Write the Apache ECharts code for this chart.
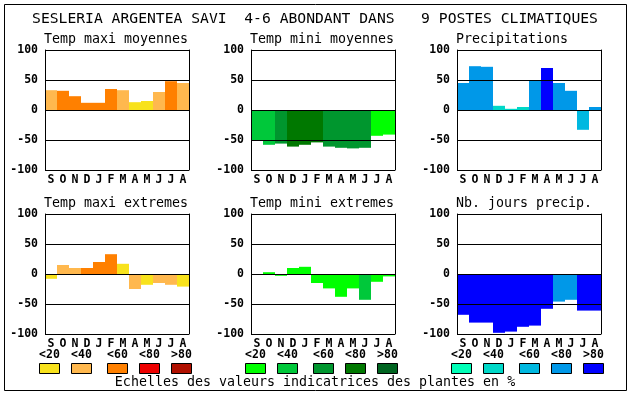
<!DOCTYPE html>
<html>
<head>
<meta charset="utf-8">
<script src="https://cdn.jsdelivr.net/npm/echarts@6/dist/echarts.min.js"></script>
<style>html,body{margin:0;padding:0;background:#fff}#c{width:630px;height:394px}</style>
</head>
<body>
<div id="c"></div>
<script>
// ---- data ----
const months = ['S','O','N','D','J','F','M','A','M','J','J','A'];
const yTicks = [-100, -50, 0, 50, 100];
const mainTitle = 'SESLERIA ARGENTEA SAVI  4-6 ABONDANT DANS   9 POSTES CLIMATIQUES';
const panelTitles = ['Temp maxi moyennes','Temp mini moyennes','Precipitations',
                     'Temp maxi extremes','Temp mini extremes','Nb. jours precip.'];
const classLabels = ['<20','<40','<60','<80','>80'];
const caption = 'Echelles des valeurs indicatrices des plantes en %';

const tmaxMoy    = [33, 32, 23, 12, 12, 35, 33, 13, 15, 30, 48, 45];
const tmaxMoyCls = [1, 2, 2, 2, 2, 2, 1, 0, 0, 1, 2, 1];
const tminMoy    = [-50, -58, -56, -61, -58, -54, -61, -63, -64, -63, -43, -41];
const tminMoyCls = [1, 1, 2, 3, 3, 3, 2, 2, 2, 2, 0, 0];
const precip     = [45, 73, 72, 7, 2, 5, 49, 70, 45, 32, -33, 5];
const precipCls  = [3, 3, 3, 1, 1, 1, 3, 4, 3, 3, 2, 3];
const tmaxExt    = [-8, 15, 10, 10, 20, 33, 17, -25, -18, -15, -18, -21];
const tmaxExtCls = [0, 1, 1, 2, 2, 2, 0, 1, 0, 1, 1, 0];
const tminExt    = [0, 3, -3, 10, 12, -15, -24, -38, -24, -43, -13, -4];
const tminExtCls = [0, 0, 0, 0, 0, 0, 0, 0, 0, 1, 0, 0];
const nbJours    = [-68, -81, -81, -98, -96, -88, -86, -58, -46, -43, -61, -61];
const nbJoursCls = [4, 4, 4, 4, 4, 4, 4, 4, 3, 3, 4, 4];

// ---- styles ----
const warm  = ['#F8E21C', '#FFB84E', '#FF8000', '#EE0000', '#B01000'];
const green = ['#00FF00', '#00C83A', '#00962E', '#007800', '#006420'];
const blue  = ['#00FFB8', '#00D8C8', '#00B8E0', '#0098E8', '#0000FF'];
const palettes = [warm, green, blue];

const FONT = 'DejaVu Sans Mono';
const panels = [
  {vals: tmaxMoy, cls: tmaxMoyCls, pal: warm},
  {vals: tminMoy, cls: tminMoyCls, pal: green},
  {vals: precip,  cls: precipCls,  pal: blue},
  {vals: tmaxExt, cls: tmaxExtCls, pal: warm},
  {vals: tminExt, cls: tminExtCls, pal: green},
  {vals: nbJours, cls: nbJoursCls, pal: blue}
];
const lefts = [45, 251, 457];
const tops = [50, 214];
const W = 144, H = 120;

const grids = [], xAxes = [], yAxes = [], series = [], titles = [];
titles.push({text: mainTitle, left: 'center', top: 12, padding: 0,
  textStyle: {fontFamily: FONT, fontSize: 14.7, fontWeight: 'normal', color: '#000'}});
titles.push({text: caption, left: 'center', top: 376, padding: 0,
  textStyle: {fontFamily: FONT, fontSize: 13.3, fontWeight: 'normal', color: '#000'}});

panels.forEach((p, i) => {
  const col = i % 3, row = Math.floor(i / 3);
  grids.push({left: lefts[col], top: tops[row], width: W, height: H, containLabel: false});
  titles.push({text: panelTitles[i], left: lefts[col] - 1, top: tops[row] - 17, padding: 0,
    textStyle: {fontFamily: FONT, fontSize: 13.3, fontWeight: 'normal', color: '#000'}});
  xAxes.push({type: 'category', gridIndex: i, data: months, boundaryGap: true,
    axisLine: {show: false}, axisTick: {show: false}, splitLine: {show: false},
    axisLabel: {interval: 0, margin: 4, fontFamily: FONT, fontSize: 11.5, fontWeight: 'bold', color: '#000'}});
  yAxes.push({type: 'value', gridIndex: i, min: yTicks[0], max: yTicks[yTicks.length - 1], interval: 50, z: 5,
    axisLine: {show: true, lineStyle: {color: '#000', width: 1}}, axisTick: {show: false},
    splitLine: {show: true, lineStyle: {color: '#000', width: 1}},
    axisLabel: {margin: 7, fontFamily: FONT, fontSize: 11.5, fontWeight: 'bold', color: '#000'}});
  yAxes.push({type: 'value', gridIndex: i, position: 'right', min: -100, max: 100, interval: 50, z: 5,
    axisLine: {show: true, lineStyle: {color: '#000', width: 1}}, axisTick: {show: false},
    splitLine: {show: false}, axisLabel: {show: false}});
  series.push({type: 'bar', xAxisIndex: i, yAxisIndex: 2 * i, barCategoryGap: '0%', z: 2,
    data: p.vals.map((v, k) => ({value: v, itemStyle: {color: p.pal[p.cls[k]]}}))});
});

// legend boxes and labels
const graphic = [{type: 'rect', shape: {x: 4.5, y: 4.5, width: 622, height: 386},
  style: {fill: null, stroke: '#000', lineWidth: 1}, z: 10}];
const offs = [-6, 26, 62, 94, 126];
palettes.forEach((pal, g) => {
  pal.forEach((c, k) => {
    const x = lefts[g] + offs[k];
    graphic.push({type: 'rect', shape: {x: x + 0.5, y: 363.5, width: 20, height: 10},
      style: {fill: c, stroke: '#000', lineWidth: 1}});
    graphic.push({type: 'text', x: x + 10.5, y: 355,
      style: {text: classLabels[k], fill: '#000', font: 'bold 11.5px "DejaVu Sans Mono"',
        textAlign: 'center', textVerticalAlign: 'middle'}});
  });
});

const chart = echarts.init(document.getElementById('c'), null, {renderer: 'canvas'});
chart.setOption({animation: false, backgroundColor: '#fff', title: titles, grid: grids,
  xAxis: xAxes, yAxis: yAxes, series: series, graphic: graphic});
</script>
</body>
</html>
